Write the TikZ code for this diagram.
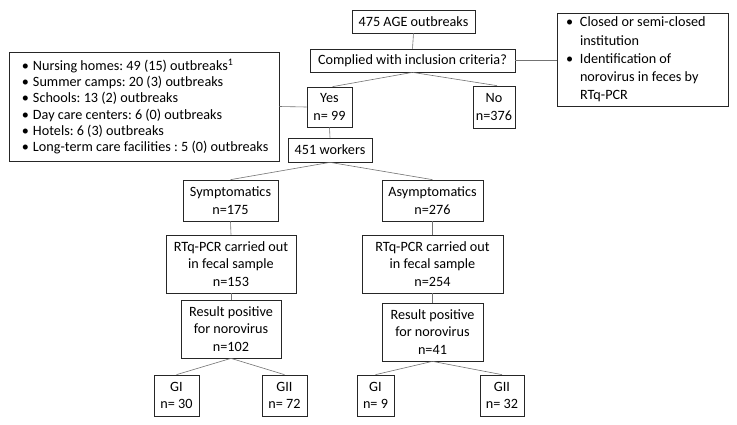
\documentclass[tikz,border=0pt]{standalone}
\usepackage{fontspec}
\setmainfont{Carlito}
\frenchspacing
\begin{document}
\begin{tikzpicture}[x=1pt,y=-1pt,
  font=\fontsize{14.2}{17.5}\selectfont,
  box/.style={draw=black!85, line width=0.7pt, align=center, inner sep=0pt},
  conn/.style={draw=black!55, line width=0.6pt}]
\useasboundingbox (0,0) rectangle (737,424);
\fill[white] (0,0) rectangle (737,424);
% top
\node[box, minimum width=123pt, minimum height=23pt] (age) at (413.5,21.5) {475 AGE outbreaks};
\node[box, minimum width=205pt, minimum height=23pt] (comp) at (412.5,60.5) {Complied with inclusion criteria?};
\node[box, minimum width=171pt, minimum height=93pt, align=left, text width=171pt, font=\fontsize{14.2}{18.2}\selectfont] (crit) at (642.5,59.5)
  {\spaceskip=0pt\xspaceskip=0pt
   \hspace*{9pt}\makebox[14pt][l]{\textbullet}Closed or semi-closed\\
   \hspace*{23pt}institution\\
   \hspace*{9pt}\makebox[14pt][l]{\textbullet}Identification of\\
   \hspace*{23pt}norovirus in feces by\\
   \hspace*{23pt}RTq-PCR};
\node[box, minimum width=270pt, minimum height=109pt, align=left, text width=270pt, font=\fontsize{14.2}{16.2}\selectfont] (list) at (144,106.5)
  {\spaceskip=0pt\xspaceskip=0pt
   \hspace*{13pt}\makebox[11pt][l]{\textbullet}Nursing homes: 49 (15) outbreaks\textsuperscript{1}\\
   \hspace*{13pt}\makebox[11pt][l]{\textbullet}Summer camps: 20 (3) outbreaks\\
   \hspace*{13pt}\makebox[11pt][l]{\textbullet}Schools: 13 (2) outbreaks\\
   \hspace*{13pt}\makebox[11pt][l]{\textbullet}Day care centers: 6 (0) outbreaks\\
   \hspace*{13pt}\makebox[11pt][l]{\textbullet}Hotels: 6 (3) outbreaks\\
   \hspace*{13pt}\makebox[11pt][l]{\textbullet}Long-term care facilities : 5 (0) outbreaks};
\node[box, minimum width=45pt, minimum height=40pt] (yes) at (329.5,107) {Yes\\n= 99};
\node[box, minimum width=42pt, minimum height=42pt] (no) at (494,107) {No\\n=376};
\node[box, minimum width=84pt, minimum height=24pt] (workers) at (330,150) {451 workers};
% branches
\node[box, minimum width=95pt, minimum height=41pt] (sym) at (230.5,200.5) {Symptomatics\\n=175};
\node[box, minimum width=101pt, minimum height=41pt] (asym) at (432.5,200.5) {Asymptomatics\\n=276};
\node[box, minimum width=130pt, minimum height=58pt] (rtl) at (231,264) {RTq-PCR carried out\\in fecal sample\\n=153};
\node[box, minimum width=141pt, minimum height=58pt] (rtr) at (432.5,264) {RTq-PCR carried out\\in fecal sample\\n=254};
\node[box, minimum width=100pt, minimum height=58pt] (resl) at (231,329) {Result positive\\for norovirus\\n=102};
\node[box, minimum width=101pt, minimum height=58pt] (resr) at (432.5,332) {Result positive\\for norovirus\\n=41};
\node[box, minimum width=45pt, minimum height=41pt] (g1l) at (176.5,395.5) {GI\\n= 30};
\node[box, minimum width=45pt, minimum height=41pt] (g2l) at (284.5,395.5) {GII\\n= 72};
\node[box, minimum width=37pt, minimum height=41pt] (g1r) at (375.5,395.5) {GI\\n= 9};
\node[box, minimum width=44pt, minimum height=41pt] (g2r) at (502,395.5) {GII\\n= 32};
% connectors
\draw[conn] (age.south) -- (comp.north);
\draw[conn] (comp.east) -- (comp.east -| crit.west);
\draw[conn] (comp.south) -- ([xshift=3pt]yes.north);
\draw[conn] (comp.south) -- ([xshift=3pt]no.north);
\draw[conn] (list.east) -- (yes.west);
\draw[conn] (yes.south) -- (workers.north);
\draw[conn] (workers.south) -- (sym.north);
\draw[conn] (workers.south) -- (asym.north);
\draw[conn] (sym.south) -- (rtl.north);
\draw[conn] (asym.south) -- (rtr.north);
\draw[conn] (rtl.south) -- (resl.north);
\draw[conn] (rtr.south) -- (resr.north);
\draw[conn] (resl.south) -- (g1l.north);
\draw[conn] (resl.south) -- (g2l.north);
\draw[conn] (resr.south) -- (g1r.north);
\draw[conn] (resr.south) -- (g2r.north);
\end{tikzpicture}
\end{document}
